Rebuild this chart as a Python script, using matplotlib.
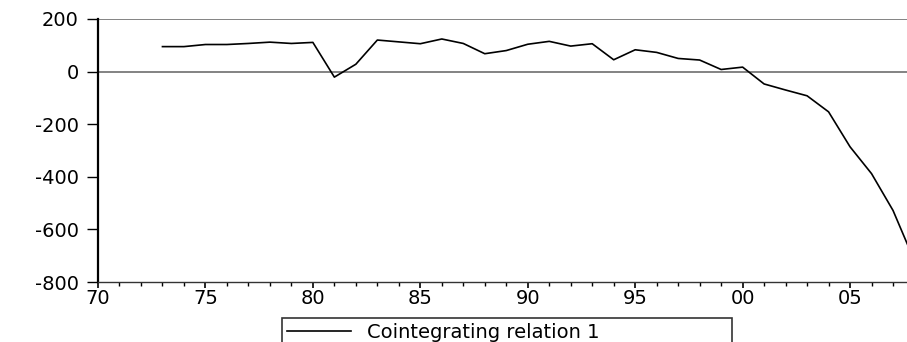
import numpy as np
import matplotlib.pyplot as plt
from matplotlib.ticker import MultipleLocator, FuncFormatter

# =========================
# Data
# =========================
years = list(range(1973, 2009))
relation = [95, 95, 103, 103, 107, 112, 107, 111, -21, 28,
            120, 113, 106, 124, 107, 68, 80, 104, 115, 97,
            106, 45, 83, 73, 50, 44, 8, 17, -47, -70,
            -92, -153, -286, -388, -528, -720]
y_ticks = [200, 0, -200, -400, -600, -800]
x_tick_years = list(range(1970, 2010, 5))

# =========================
# Plot style
# =========================
tick_fontsize = 14
legend_fontsize = 14
plt.rcParams["font.family"] = ["DejaVu Sans"]
plt.rcParams["axes.unicode_minus"] = False

fig = plt.figure(figsize=(9.07, 3.42), dpi=100)
ax = fig.add_axes([98 / 907, 1 - 282 / 342, 1 - 98 / 907, (282 - 19) / 342])

ax.plot(years, relation, color="black", linewidth=1.2, label="Cointegrating relation 1")
ax.axhline(200, color="#6e6e6e", linewidth=1.2, zorder=0)
ax.axhline(0, color="#6e6e6e", linewidth=1.2, zorder=0)

ax.set_xlim(1970, 2007.65)
ax.set_ylim(-800, 200)
ax.set_yticks(y_ticks)
ax.set_xticks(x_tick_years)
ax.xaxis.set_minor_locator(MultipleLocator(1))
ax.xaxis.set_major_formatter(FuncFormatter(lambda v, p: f"{int(v) % 100:02d}"))

for side in ["top", "right"]:
    ax.spines[side].set_visible(False)
ax.spines["left"].set_linewidth(1.6)
ax.spines["bottom"].set_linewidth(1.0)
ax.spines["bottom"].set_color("#333333")

ax.tick_params(axis="y", direction="out", length=8, width=1.0, pad=6, labelsize=tick_fontsize)
ax.tick_params(axis="x", which="major", direction="out", length=4, width=1.2, pad=1, labelsize=tick_fontsize)
ax.tick_params(axis="x", which="minor", direction="out", length=3, width=1.0)

# legend box: wide, starting just under the axis, cut by the bottom edge like the original
leg_x0, leg_x1, leg_top = 282 / 907, 732 / 907, 1 - 318 / 342
leg = fig.legend(loc="upper left", bbox_to_anchor=(leg_x0, leg_top - 0.2, leg_x1 - leg_x0, 0.2),
                 mode="expand", fontsize=legend_fontsize, frameon=True, fancybox=False,
                 edgecolor="black", handlelength=3.3, handletextpad=0.8,
                 borderpad=0.25, borderaxespad=0)
leg.get_frame().set_linewidth(1.2)

fig.savefig("out.png", dpi=100)
